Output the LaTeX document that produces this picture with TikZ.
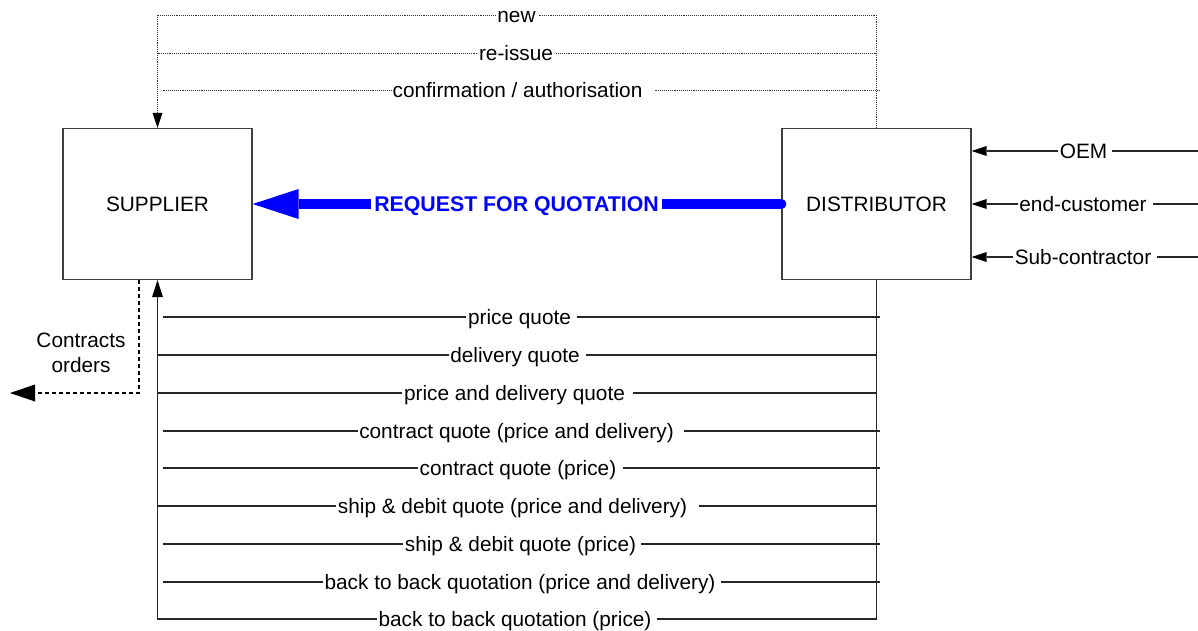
\documentclass[tikz,border=0pt]{standalone}
\usepackage{fontspec}
\setmainfont{Liberation Sans}
\usetikzlibrary{arrows.meta,calc}
\begin{document}
\begin{tikzpicture}[x=1pt,y=-1pt,
  font=\fontsize{20.8pt}{25pt}\selectfont,
  box/.style={draw=black!75, line width=1.2pt, minimum width=189pt,
              minimum height=151pt, inner sep=0pt},
  lbl/.style={inner xsep=1.5pt, inner ysep=0pt, text height=15pt, text depth=1pt},
  wire/.style={draw=black!85, line width=1.1pt},
  dotwire/.style={draw=black!80, line width=1pt, dash pattern=on 1pt off 0.9pt},
  dashwire/.style={draw=black, line width=1.7pt, dash pattern=on 4pt off 3pt},
  headsmall/.style={-{Triangle[length=15pt,width=10pt,line width=0pt,color=black]}},
  headup/.style={-{Triangle[length=17pt,width=11pt,line width=0pt,color=black]}},
  headbig/.style={-{Triangle[length=25pt,width=17pt,line width=0pt,color=black]}},
  rfqline/.style={draw=blue, line width=10pt},
]
\useasboundingbox (0,0) rectangle (1198,630);

% the two parties
\node[box] (sup)  at (157.5,204) {SUPPLIER};
\node[box] (dist) at (876.5,204) {DISTRIBUTOR};

% request for quotation
\node[lbl, font=\fontsize{21.3pt}{25pt}\selectfont\bfseries, text=blue,
      inner xsep=3.5pt] (rfq) at (516.5,204) {REQUEST FOR QUOTATION};
\draw[rfqline, -{Triangle[length=46pt,width=30pt,line width=0pt]}] (rfq.west) -- (sup.east);
\draw[rfqline] (rfq.east) -- (dist.west);
\fill[blue] (dist.west) circle (5pt);

% dotted feedback loop on top
\node[lbl] (new) at (516.5,15) {new};
\draw[dotwire] (dist.north) |- ($(new.east)+(1.5,0)$);
\draw[dotwire, headsmall] (new.west) -| (sup.north);

\node[lbl] (reissue) at (516,53) {re-issue};
\draw[dotwire] (reissue.west) -- (reissue.west -| sup.north);
\draw[dotwire] ($(reissue.east)+(1.5,0)$) -- (reissue.east -| dist.north);

\node[lbl] (conf) at (517.5,90) {confirmation / authorisation};
\draw[dotwire] ($(conf.west -| sup.north)+(5,0)$) -- (conf.west);
\draw[dotwire] ($(conf.east)+(10.5,0)$) -- ($(conf.east -| dist.north)+(3.5,0)$);

% customers of the distributor
\coordinate (srcA) at (1198,151);
\coordinate (srcB) at (1198,204);
\coordinate (srcC) at (1198,257);
\node[lbl] (oem)  at (1083.5,151) {OEM};
\node[lbl] (endc) at (1083,204) {end-customer};
\node[lbl] (subc) at (1083,257) {Sub-contractor};
\draw[wire, headsmall] (oem.west) -- (oem.west -| dist.east);
\draw[wire] ($(oem.east)+(3.5,0)$) -- (srcA);
\draw[wire, headsmall] (endc.west) -- (endc.west -| dist.east);
\draw[wire] ($(endc.east)+(4.5,0)$) -- (srcB);
\draw[wire, headsmall] (subc.west) -- (subc.west -| dist.east);
\draw[wire] ($(subc.east)+(4.5,0)$) -- (srcC);

% contracts and orders leaving the supplier
\coordinate (cbend) at (139,393);
\coordinate (cend)  at (10,393);
\draw[dashwire, headbig] (sup.south -| cbend) -- (cbend) -- (cend);
\node[lbl] (contracts) at (81,340) {Contracts};
\node[lbl] (orders)    at (81,365) {orders};

% quotations returned to the supplier
\foreach \y/\cx/\g/\dl/\dr/\t in {
  317/519.5/4/5/3.5/price quote,
  355/515/5/0/0/delivery quote,
  393/514.5/6/0/0/price and delivery quote,
  431/516.5/9/5/3.5/contract quote (price and delivery),
  468/518/5/5/3.5/contract quote (price),
  506/512.5/10/0/0/ship \& debit quote (price and delivery),
  544/520.5/3/5/3.5/ship \& debit quote (price),
  582/520/4/5/3.5/back to back quotation (price and delivery)}
{
  \node[lbl] (q\y) at (\cx,\y) {\t};
  \draw[wire] ($(q\y.west -| sup.south)+(\dl,0)$) -- (q\y.west);
  \draw[wire] ($(q\y.east)+(\g,0)$) -- ($(q\y.east -| dist.south)+(\dr,0)$);
}
\node[lbl] (qlast) at (515,619) {back to back quotation (price)};
\draw[wire, headup] (qlast.west) -| (sup.south);
\draw[wire] ($(qlast.east)+(4,0)$) -| (dist.south);
\end{tikzpicture}
\end{document}
